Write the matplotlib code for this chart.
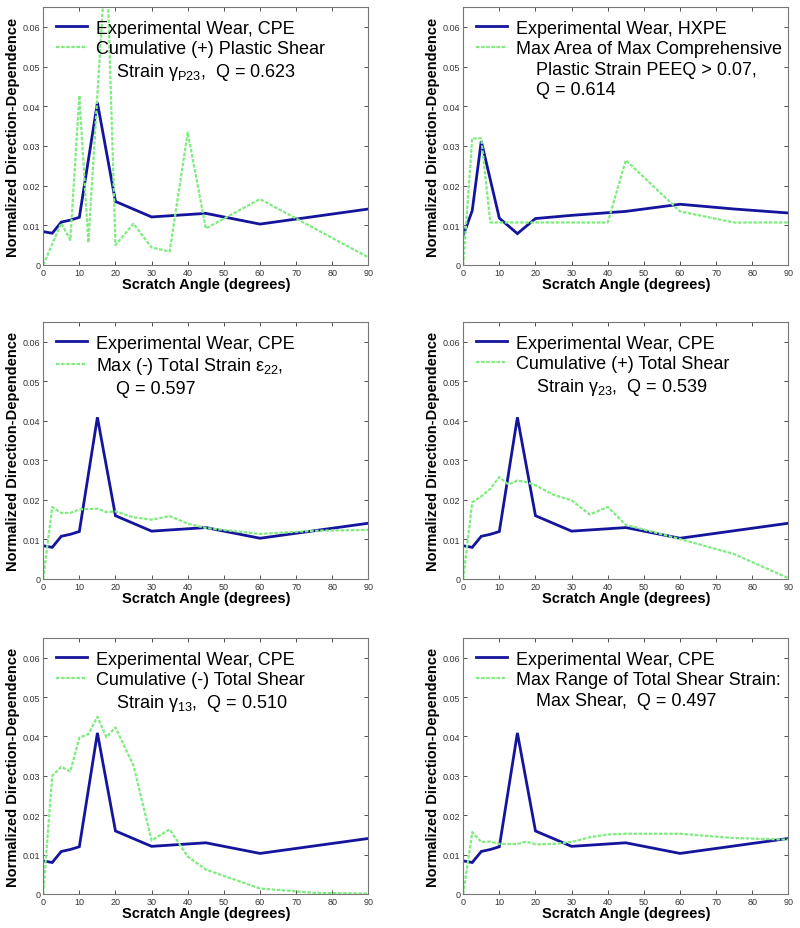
import matplotlib
matplotlib.use("Agg")
import matplotlib.pyplot as plt
from matplotlib.lines import Line2D
from matplotlib.ticker import FixedLocator, FuncFormatter

plt.rcParams['font.family'] = ['Liberation Sans', 'DejaVu Sans']
plt.rcParams['mathtext.fontset'] = 'custom'
plt.rcParams['mathtext.rm'] = 'Liberation Sans'
plt.rcParams['mathtext.it'] = 'Liberation Sans'

# ---- data ----
cpe_x = [0, 2.5, 5, 7.5, 10, 15, 20, 30, 45, 60, 90]
cpe_y = [0.0084, 0.0080, 0.0108, 0.0113, 0.0120, 0.0409, 0.0160, 0.0121, 0.0130, 0.0103, 0.0141]

hxpe_x = [0, 1, 2.5, 5, 10, 15, 20, 30, 45, 60, 75, 90]
hxpe_y = [0.0076, 0.0099, 0.0137, 0.0312, 0.0118, 0.0079, 0.0117, 0.0125, 0.0135, 0.0153, 0.0141, 0.0131]

p1_x = [0, 5, 7.5, 10, 12.5, 17.5, 20, 25, 30, 35, 40, 45, 60, 90]
p1_y = [0.0, 0.0105, 0.0063, 0.0427, 0.0056, 0.080, 0.0050, 0.0104, 0.0044, 0.0034, 0.0334, 0.0092, 0.0166, 0.0019]

p2_x = [0, 2.5, 5, 7.5, 40, 45, 60, 75, 90]
p2_y = [0.0, 0.0319, 0.0319, 0.0107, 0.0107, 0.0264, 0.0135, 0.0107, 0.0107]

p3_x = [0, 2.5, 5, 7.5, 10, 15, 17.5, 20, 25, 30, 35, 40, 45, 60, 75, 90]
p3_y = [0.0, 0.0182, 0.0167, 0.0167, 0.0176, 0.0178, 0.0169, 0.0171, 0.0156, 0.0150, 0.0159, 0.0140, 0.0129, 0.0114, 0.0122, 0.0124]

p4_x = [0, 2.5, 5, 7.5, 10, 12.5, 15, 17.5, 20, 25, 30, 35, 40, 45, 60, 75, 90]
p4_y = [0.0, 0.0194, 0.0209, 0.0228, 0.0258, 0.0239, 0.0249, 0.0245, 0.0237, 0.0213, 0.0199, 0.0163, 0.0182, 0.0137, 0.0101, 0.0063, 0.0002]

p5_x = [0, 2.5, 5, 7.5, 10, 12.5, 15, 17.5, 20, 25, 30, 35, 40, 45, 60, 75, 90]
p5_y = [0.0, 0.0300, 0.0323, 0.0311, 0.0397, 0.0406, 0.0450, 0.0398, 0.0423, 0.0326, 0.0136, 0.0164, 0.0095, 0.0062, 0.0014, 0.0003, 0.0001]

p6_x = [0, 2.5, 5, 7.5, 10, 15, 17.5, 20, 25, 30, 35, 40, 45, 60, 75, 90]
p6_y = [0.0, 0.0157, 0.0132, 0.0133, 0.0127, 0.0127, 0.0133, 0.0126, 0.0127, 0.0132, 0.0144, 0.0151, 0.0153, 0.0153, 0.0142, 0.0138]

panels = [
    (cpe_x, cpe_y, "Experimental Wear, CPE", p1_x, p1_y,
     ["Cumulative (+) Plastic Shear",
      "    Strain \u03b3$_{\\mathrm{P23}}$,  Q = 0.623"]),
    (hxpe_x, hxpe_y, "Experimental Wear, HXPE", p2_x, p2_y,
     ["Max Area of Max Comprehensive",
      "    Plastic Strain PEEQ > 0.07,",
      "    Q = 0.614"]),
    (cpe_x, cpe_y, "Experimental Wear, CPE", p3_x, p3_y,
     ["Max (-) Total Strain \u03b5$_{\\mathrm{22}}$,",
      "    Q = 0.597"]),
    (cpe_x, cpe_y, "Experimental Wear, CPE", p4_x, p4_y,
     ["Cumulative (+) Total Shear",
      "    Strain \u03b3$_{\\mathrm{23}}$,  Q = 0.539"]),
    (cpe_x, cpe_y, "Experimental Wear, CPE", p5_x, p5_y,
     ["Cumulative (-) Total Shear",
      "    Strain \u03b3$_{\\mathrm{13}}$,  Q = 0.510"]),
    (cpe_x, cpe_y, "Experimental Wear, CPE", p6_x, p6_y,
     ["Max Range of Total Shear Strain:",
      "    Max Shear,  Q = 0.497"]),
]

xticks = [0, 10, 20, 30, 40, 50, 60, 70, 80, 90]
yticks = [0, 0.01, 0.02, 0.03, 0.04, 0.05, 0.06]

fig = plt.figure(figsize=(8.0, 9.29), dpi=100)

lefts = [0.054, 0.579]
rows = [(0.7137, 0.2777), (0.3757, 0.2766), (0.0366, 0.2756)]

blue = '#14149c'
green = '#80ec80'
gls = (0, (1.6, 0.7))

for i, (bx, by, blab, gx, gy, glines) in enumerate(panels):
    r, c = divmod(i, 2)
    b, h = rows[r]
    ax = fig.add_axes([lefts[c], b, 0.4065, h])
    lb, = ax.plot(bx, by, color=blue, lw=2.0, solid_joinstyle='miter')
    lg, = ax.plot(gx, gy, color=green, lw=1.6, linestyle=gls)
    ax.set_xlim(0, 90)
    ax.set_ylim(0, 0.065)
    ax.xaxis.set_major_locator(FixedLocator(xticks))
    ax.yaxis.set_major_locator(FixedLocator(yticks))
    ax.yaxis.set_major_formatter(FuncFormatter(lambda v, p: '0' if abs(v) < 1e-9 else '%.2f' % v))
    ax.tick_params(direction='in', length=3, width=0.6, labelsize=6.5,
                   colors='#333333', top=True, right=True, pad=2)
    for s in ax.spines.values():
        s.set_color('#777777')
        s.set_linewidth(0.8)
    ax.set_xlabel('Scratch Angle (degrees)', fontsize=10.5, fontweight='bold', labelpad=0)
    ax.set_ylabel('Normalized Direction-Dependence', fontsize=10.5, fontweight='bold', labelpad=2)
    handles = [lb, lg] + [Line2D([], [], color='none') for _ in glines[1:]]
    labels = [blab] + glines
    ax.legend(handles, labels, loc='upper left', frameon=False, fontsize=13, handlelength=1.75,
              handletextpad=0.5, borderaxespad=0.65, borderpad=0.05, labelspacing=0.2)

fig.savefig('out.png', dpi=100)
